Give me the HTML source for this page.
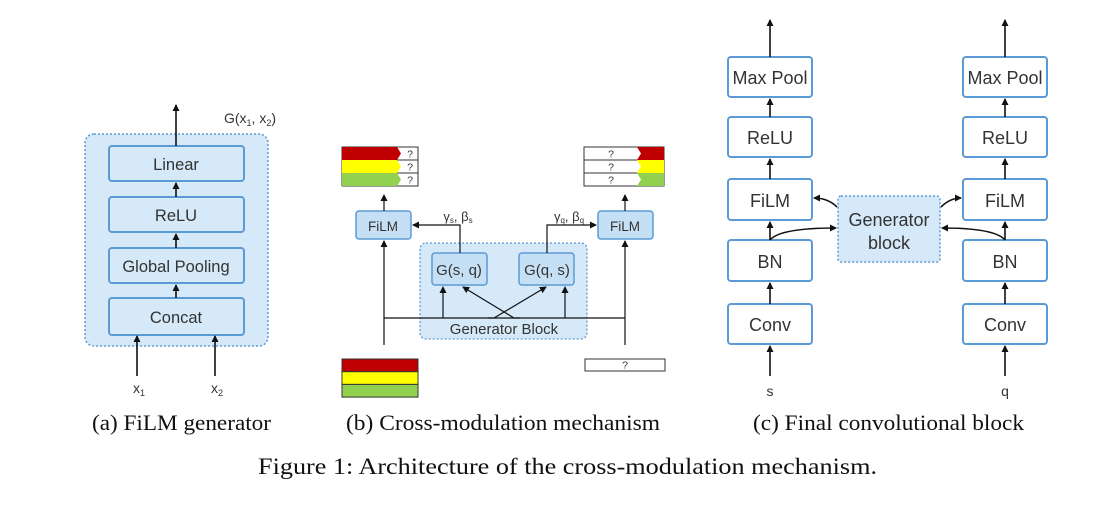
<!DOCTYPE html>
<html><head><style>
html,body{margin:0;padding:0;background:#fff;}
svg{display:block;}
.s{font-family:"Liberation Sans",sans-serif;fill:#333;}
.r{font-family:"Liberation Serif",serif;fill:#111;}
</style></head><body>
<svg width="1113" height="525" viewBox="0 0 1113 525" xmlns="http://www.w3.org/2000/svg">
<defs>
<marker id="a" markerWidth="8" markerHeight="8" refX="6" refY="4" orient="auto" markerUnits="userSpaceOnUse">
<path d="M0,0.5 L7,4 L0,7.5 Z" fill="#111"/></marker>
</defs>
<!-- Panel a -->
<rect x="85" y="134" width="183" height="212" rx="9" fill="#d6e9f8" stroke="#5b9bd5" stroke-width="1.5" stroke-dasharray="2,2"/>
<g fill="#d6e9f8" stroke="#5b9bd5" stroke-width="2">
<rect x="109" y="146" width="135" height="35" rx="3"/>
<rect x="109" y="197" width="135" height="35" rx="3"/>
<rect x="109" y="248" width="135" height="35" rx="3"/>
<rect x="109" y="298" width="135" height="37" rx="3"/>
</g>
<g class="s" font-size="16.5" text-anchor="middle">
<text x="176" y="170">Linear</text>
<text x="176" y="221">ReLU</text>
<text x="176" y="272">Global Pooling</text>
<text x="176" y="323">Concat</text>
<text x="250" y="123" font-size="14">G(x<tspan font-size="9" dy="3">1</tspan><tspan dy="-3">, x</tspan><tspan font-size="9" dy="3">2</tspan><tspan dy="-3">)</tspan></text>
<text x="139" y="393" font-size="14">x<tspan font-size="9" dy="3">1</tspan></text>
<text x="217" y="393" font-size="14">x<tspan font-size="9" dy="3">2</tspan></text>
</g>
<g stroke="#111" stroke-width="1.6" marker-end="url(#a)">
<line x1="176" y1="146" x2="176" y2="105"/>
<line x1="176" y1="197" x2="176" y2="183"/>
<line x1="176" y1="248" x2="176" y2="234"/>
<line x1="176" y1="298" x2="176" y2="285"/>
<line x1="137" y1="376" x2="137" y2="336"/>
<line x1="215" y1="376" x2="215" y2="336"/>
</g>

<!-- Panel b -->
<g stroke="#333" stroke-width="1">
<rect x="342" y="147" width="76" height="13" fill="#fff"/>
<rect x="342" y="160" width="76" height="13" fill="#fff"/>
<rect x="342" y="173" width="76" height="13" fill="#fff"/>
</g>
<polygon points="342,147 397,147 401,153.5 397,160 342,160" fill="#c00000"/>
<polygon points="342,160 397,160 401,166.5 397,173 342,173" fill="#ffff00"/>
<polygon points="342,173 397,173 401,179.5 397,186 342,186" fill="#92d050"/>
<g stroke="#333" stroke-width="1" fill="#fff">
<rect x="584" y="147" width="80" height="13"/>
<rect x="584" y="160" width="80" height="13"/>
<rect x="584" y="173" width="80" height="13"/>
</g>
<polygon points="664,147 637,147 641,153.5 637,160 664,160" fill="#c00000"/>
<polygon points="664,160 637,160 641,166.5 637,173 664,173" fill="#ffff00"/>
<polygon points="664,173 637,173 641,179.5 637,186 664,186" fill="#92d050"/>
<rect x="342" y="359" width="76" height="12.7" fill="#c00000" stroke="#333"/>
<rect x="342" y="371.7" width="76" height="12.7" fill="#ffff00" stroke="#333"/>
<rect x="342" y="384.4" width="76" height="12.7" fill="#92d050" stroke="#333"/>
<rect x="585" y="359" width="80" height="12" fill="#fff" stroke="#333"/>
<g class="s" font-size="10.5" text-anchor="middle">
<text x="410" y="157.5">?</text><text x="410" y="170.5">?</text><text x="410" y="183.5">?</text>
<text x="611" y="157.5">?</text><text x="611" y="170.5">?</text><text x="611" y="183.5">?</text>
<text x="625" y="368.5">?</text>
</g>
<rect x="420" y="243" width="167" height="96" rx="6" fill="#d6e9f8" stroke="#5b9bd5" stroke-width="1.3" stroke-dasharray="2,2"/>
<g fill="#c5e0f5" stroke="#5b9bd5" stroke-width="1.5">
<rect x="356" y="211" width="55" height="28" rx="3"/>
<rect x="598" y="211" width="55" height="28" rx="3"/>
<rect x="432" y="253" width="55" height="32" rx="3"/>
<rect x="519" y="253" width="55" height="32" rx="3"/>
</g>
<g class="s" text-anchor="middle">
<text x="383" y="231" font-size="13.5">FiLM</text>
<text x="625" y="231" font-size="13.5">FiLM</text>
<text x="459" y="275" font-size="15">G(s, q)</text>
<text x="547" y="275" font-size="15">G(q, s)</text>
<text x="504" y="334" font-size="15">Generator Block</text>
<text x="458" y="221" font-size="13">γ<tspan font-size="8" dy="2">s</tspan><tspan dy="-2">, β</tspan><tspan font-size="8" dy="2">s</tspan></text>
<text x="569" y="221" font-size="13">γ<tspan font-size="8" dy="2">q</tspan><tspan dy="-2">, β</tspan><tspan font-size="8" dy="2">q</tspan></text>
</g>
<g stroke="#111" stroke-width="1.2" fill="none">
<polyline points="384,318 625,318"/>
<line x1="384" y1="345" x2="384" y2="318"/>
<line x1="625" y1="345" x2="625" y2="318"/>
</g>
<g stroke="#111" stroke-width="1.2" fill="none" marker-end="url(#a)">
<line x1="384" y1="318" x2="384" y2="241"/>
<line x1="625" y1="318" x2="625" y2="241"/>
<line x1="384" y1="211" x2="384" y2="195"/>
<line x1="625" y1="211" x2="625" y2="195"/>
<line x1="443" y1="318" x2="443" y2="287"/>
<line x1="565" y1="318" x2="565" y2="287"/>
<polyline points="488,318 494,318 546,287"/>
<polyline points="520,318 514,318 463,287"/>
<polyline points="460,253 460,225 413,225"/>
<polyline points="547,253 547,225 596,225"/>
</g>

<!-- Panel c -->
<g fill="#fff" stroke="#5b9bd5" stroke-width="2">
<rect x="728" y="57" width="84" height="40" rx="3"/>
<rect x="728" y="117" width="84" height="40" rx="3"/>
<rect x="728" y="179" width="84" height="41" rx="3"/>
<rect x="728" y="240" width="84" height="41" rx="3"/>
<rect x="728" y="304" width="84" height="40" rx="3"/>
<rect x="963" y="57" width="84" height="40" rx="3"/>
<rect x="963" y="117" width="84" height="40" rx="3"/>
<rect x="963" y="179" width="84" height="41" rx="3"/>
<rect x="963" y="240" width="84" height="41" rx="3"/>
<rect x="963" y="304" width="84" height="40" rx="3"/>
</g>
<rect x="838" y="196" width="102" height="66" rx="3" fill="#d6e9f8" stroke="#5b9bd5" stroke-width="1.5" stroke-dasharray="2,2"/>
<g class="s" font-size="18" text-anchor="middle">
<text x="770" y="84">Max Pool</text><text x="770" y="144">ReLU</text><text x="770" y="207">FiLM</text><text x="770" y="268">BN</text><text x="770" y="331">Conv</text>
<text x="1005" y="84">Max Pool</text><text x="1005" y="144">ReLU</text><text x="1005" y="207">FiLM</text><text x="1005" y="268">BN</text><text x="1005" y="331">Conv</text>
<text x="889" y="226">Generator</text><text x="889" y="249">block</text>
<text x="770" y="396" font-size="14">s</text><text x="1005" y="396" font-size="14">q</text>
</g>
<g stroke="#111" stroke-width="1.6" fill="none" marker-end="url(#a)">
<line x1="770" y1="57" x2="770" y2="20"/><line x1="770" y1="117" x2="770" y2="99"/>
<line x1="770" y1="179" x2="770" y2="159"/><line x1="770" y1="240" x2="770" y2="222"/>
<line x1="770" y1="304" x2="770" y2="283"/><line x1="770" y1="376" x2="770" y2="346"/>
<line x1="1005" y1="57" x2="1005" y2="20"/><line x1="1005" y1="117" x2="1005" y2="99"/>
<line x1="1005" y1="179" x2="1005" y2="159"/><line x1="1005" y1="240" x2="1005" y2="222"/>
<line x1="1005" y1="304" x2="1005" y2="283"/><line x1="1005" y1="376" x2="1005" y2="346"/>
<path d="M770,240 Q780,228 836,228"/>
<path d="M1005,240 Q995,228 942,228"/>
<path d="M837,207 Q828,198 814,198"/>
<path d="M941,207 Q950,198 961,198"/>
</g>

<g class="r" font-size="22">
<text x="92" y="430" textLength="179" lengthAdjust="spacingAndGlyphs">(a) FiLM generator</text>
<text x="346" y="430" textLength="314" lengthAdjust="spacingAndGlyphs">(b) Cross-modulation mechanism</text>
<text x="753" y="430" textLength="271" lengthAdjust="spacingAndGlyphs">(c) Final convolutional block</text>
<text x="258" y="474" font-size="23" textLength="619" lengthAdjust="spacingAndGlyphs">Figure 1: Architecture of the cross-modulation mechanism.</text>
</g>
</svg>
</body></html>
